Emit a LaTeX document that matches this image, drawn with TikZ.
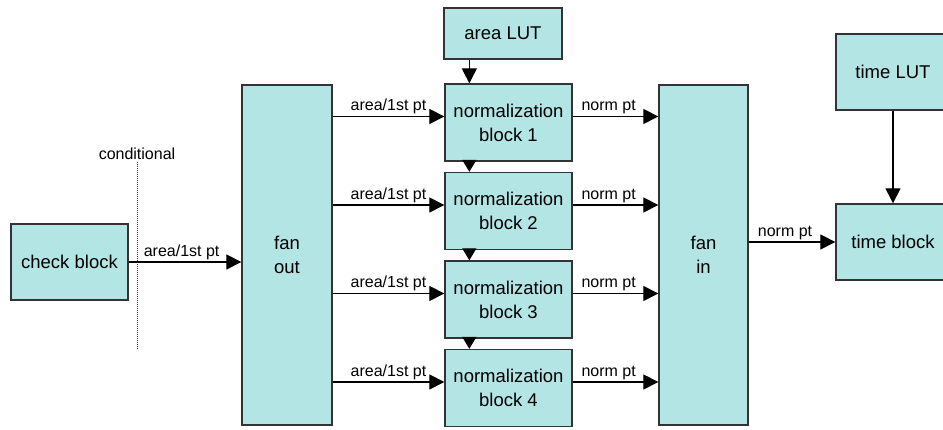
\documentclass[tikz,border=0pt]{standalone}
\usepackage{fontspec}
\setmainfont{Liberation Sans}
\usetikzlibrary{arrows.meta,calc}
\definecolor{blocofill}{RGB}{179,229,229}

\begin{document}
\begin{tikzpicture}[x=1pt,y=1pt,>={Triangle[length=15pt,width=15pt]},
	bloco/.style={draw=black!80,line width=1.3pt,fill=blocofill,inner sep=0pt,align=center,
		font=\fontsize{18.5}{24}\selectfont},
	rotulo/.style={font=\fontsize{16}{18}\selectfont,inner sep=2pt},
	seta/.style={->,line width=1.2pt}]
	\useasboundingbox (0,0) rectangle (943,430);
	%blocos
	\node[bloco,minimum width=117pt,minimum height=76pt] (check) at (69.5,168) {check block};
	\node[bloco,minimum width=90pt,minimum height=340pt] (fanout) at (287,175) {fan\\out};
	\node[bloco,minimum width=89pt,minimum height=340pt] (fanin) at (703.5,175) {fan\\in};
	\node[bloco,minimum width=118pt,minimum height=51pt] (areaLUT) at (503,396.5) {area LUT};
	\node[bloco,minimum width=114pt,minimum height=76pt] (timeLUT) at (893,358) {time LUT};
	\node[bloco,minimum width=114pt,minimum height=76pt] (timeblock) at (893,188) {time block};
	%condicional
	\node[rotulo] (cond) at (137,276) {conditional};
	\draw[densely dotted,line width=1pt,black!80] (cond.south) -- (cond.south |- 0,80);
	\draw[seta] (check.east) -- node[rotulo,above,pos=.47] {area/1st pt} (fanout.west |- check.east);
	%normalizacao
	\foreach \i/\y in {1/307.5,2/219,3/130.5,4/42}{
		\node[bloco,minimum width=127pt,minimum height=77pt] (nb\i) at (508.5,\y) {normalization\\block \i};
		\draw[seta] ($(fanout.east |- nb\i.west)+(0,6)$) -- node[rotulo,above] {area/1st pt} ($(nb\i.west)+(0,6)$);
		\draw[seta] ($(nb\i.east)+(0,6)$) -- node[rotulo,above,pos=.42] {norm pt} ($(fanin.west |- nb\i.east)+(0,6)$);
	}
	\coordinate (c1) at ($(nb1.north west)+(25,0)$);
	\draw[seta] (areaLUT.south -| c1) -- (c1);
	\foreach \i/\j in {1/2,2/3,3/4}
		\draw[->,>={Triangle[length=12pt,width=14pt]},line width=1.2pt] ($(nb\i.south west)+(25,0)$) -- ($(nb\j.north west)+(25,0)$);
	%saida
	\draw[seta] (fanin.east |- timeblock.west) -- node[rotulo,above,pos=.42] {norm pt} (timeblock.west);
	\draw[seta] (timeLUT.south) -- (timeblock.north);
\end{tikzpicture}
\end{document}
